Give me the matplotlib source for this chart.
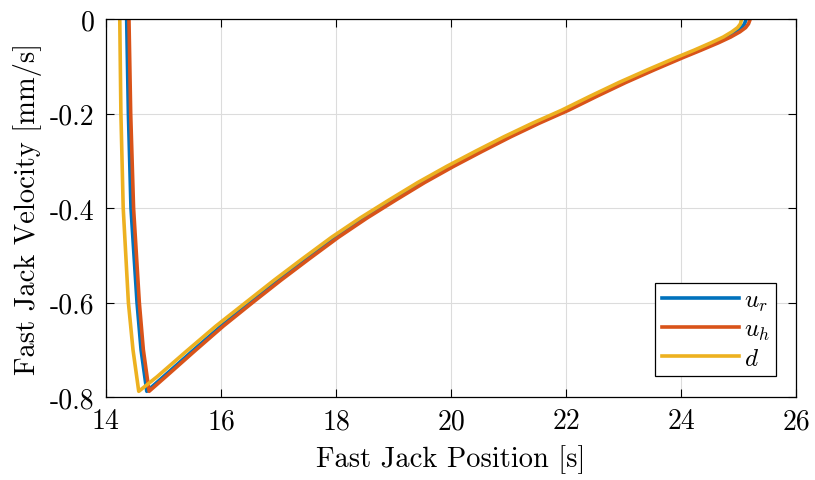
"""
Fast jack phase plot: velocity vs position for u_r, u_h and d.
"""

import matplotlib
matplotlib.use("Agg")
import matplotlib.pyplot as plt

plt.rcParams["font.family"] = "serif"
plt.rcParams["font.serif"] = ["cmr10"]
plt.rcParams["mathtext.fontset"] = "cm"
plt.rcParams["axes.unicode_minus"] = False

# shared velocity samples [mm/s] (descent, then the slow climb back to 0)
vel = [0.0, -0.2, -0.4, -0.6, -0.7, -0.788, -0.757, -0.703, -0.650, -0.601,
       -0.553, -0.507, -0.462, -0.421, -0.383, -0.346, -0.312, -0.280,
       -0.249, -0.220, -0.193, -0.163, -0.134, -0.107, -0.081, -0.066,
       -0.050, -0.038, -0.027, -0.018, -0.010, 0.0]

# u_r (blue) positions [s]
ur_pos = [14.36, 14.39, 14.435, 14.54, 14.61, 14.71, 15.0, 15.5, 16.0, 16.5,
          17.0, 17.5, 18.0, 18.5, 19.0, 19.5, 20.0, 20.5, 21.0, 21.5, 22.0,
          22.5, 23.0, 23.5, 24.0, 24.3, 24.6, 24.8, 24.95, 25.05, 25.10,
          25.13]

# u_h (orange) positions [s]
uh_pos = [14.40, 14.43, 14.48, 14.58, 14.65, 14.75, 15.04, 15.54, 16.04,
          16.54, 17.04, 17.54, 18.04, 18.54, 19.04, 19.54, 20.04, 20.54,
          21.04, 21.54, 22.04, 22.54, 23.04, 23.54, 24.04, 24.34, 24.65,
          24.86, 25.02, 25.12, 25.17, 25.20]

# d (yellow) positions [s]
d_pos = [14.24, 14.26, 14.30, 14.39, 14.47, 14.57, 14.89, 15.40, 15.91,
         16.42, 16.92, 17.42, 17.92, 18.42, 18.92, 19.42, 19.92, 20.42,
         20.92, 21.42, 21.92, 22.42, 22.92, 23.42, 23.92, 24.22, 24.52,
         24.73, 24.88, 24.98, 25.03, 25.05]

fig = plt.figure(figsize=(8.15, 4.81), dpi=100)
ax = fig.add_axes([0.130, 0.1726, 0.847, 0.7856])

ax.plot(ur_pos, vel, color="#0072BD", lw=2.6, label="$u_r$")
ax.plot(uh_pos, vel, color="#D95319", lw=2.6, label="$u_h$")
ax.plot(d_pos, vel, color="#EDB120", lw=2.6, label="$d$")

ax.set_xlim(14, 26)
ax.set_ylim(-0.8, 0)
ax.set_xticks([14, 16, 18, 20, 22, 24, 26])
ax.set_yticks([-0.8, -0.6, -0.4, -0.2, 0])
ax.set_yticklabels(["-0.8", "-0.6", "-0.4", "-0.2", "0"])
ax.grid(True, color="#dcdcdc", lw=0.8)
ax.tick_params(direction="in", top=True, right=True, labelsize=20,
               length=6, width=0.8, pad=8)
for s in ax.spines.values():
    s.set_linewidth(0.9)

ax.set_xlabel("Fast Jack Position [s]", fontsize=20.5, labelpad=7)
ax.set_ylabel("Fast Jack Velocity [mm/s]", fontsize=20.5, labelpad=6)

leg = ax.legend(loc="lower right", bbox_to_anchor=(0.971, 0.056),
                borderaxespad=0, fontsize=18, handlelength=3.1,
                fancybox=False, framealpha=1, borderpad=0.25,
                labelspacing=0.2, handletextpad=0.2)
leg.get_frame().set_edgecolor("black")
leg.get_frame().set_linewidth(0.9)

plt.savefig("out.png", dpi=100)
plt.close()
